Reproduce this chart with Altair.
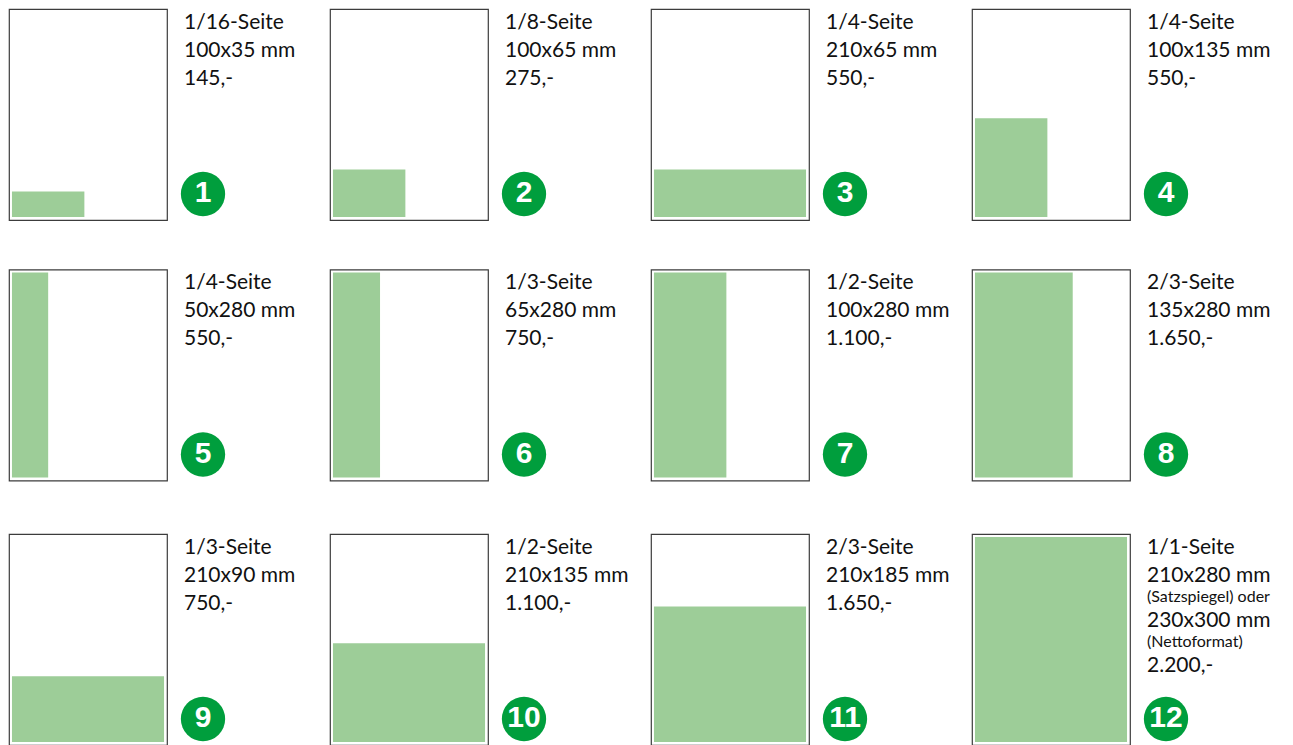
import altair as alt
import pandas as pd

# ---- data ----
ad_numbers = [1, 2, 3, 4, 5, 6, 7, 8, 9, 10, 11, 12]
ad_formats = ["1/16-Seite", "1/8-Seite", "1/4-Seite", "1/4-Seite",
              "1/4-Seite", "1/3-Seite", "1/2-Seite", "2/3-Seite",
              "1/3-Seite", "1/2-Seite", "2/3-Seite", "1/1-Seite"]
ad_width_mm = [100, 100, 210, 100, 50, 65, 100, 135, 210, 210, 210, 210]
ad_height_mm = [35, 65, 65, 135, 280, 280, 280, 280, 90, 135, 185, 280]
ad_prices = ["145,-", "275,-", "550,-", "550,-", "550,-", "750,-",
             "1.100,-", "1.650,-", "750,-", "1.100,-", "1.650,-", "2.200,-"]
# description lines of ad 12: (text, small?)
ad12_lines = [("1/1-Seite", False), ("210x280 mm", False),
              ("(Satzspiegel) oder", True), ("230x300 mm", False),
              ("(Nettoformat)", True), ("2.200,-", False)]

# ---- layout / style ----
PAGE_W, PAGE_H = 158, 211
X_DOMAIN = [-4.1, 214.1]
Y_DOMAIN = [-4.1, 284.2]
GREEN = "#9dcd98"
BADGE = "#009e3d"
FONT = "Lato"
BIG, SMALL = 21, 16
TEXT_X = 175
BADGE_X, BADGE_Y = 194, 185


def panel(i):
    df = pd.DataFrame({
        "num": [str(ad_numbers[i])],
        "x0": [0], "y0": [0],
        "w": [ad_width_mm[i]], "h": [ad_height_mm[i]],
    })
    base = alt.Chart(df)
    rect = base.mark_rect(color=GREEN).encode(
        x=alt.X("x0:Q", scale=alt.Scale(domain=X_DOMAIN, nice=False, zero=False), axis=None),
        x2="w:Q",
        y=alt.Y("y0:Q", scale=alt.Scale(domain=Y_DOMAIN, nice=False, zero=False), axis=None),
        y2="h:Q",
    )
    badge = base.mark_point(filled=True, shape="circle", size=1963,
                            color=BADGE, opacity=1, strokeWidth=0).encode(
        x=alt.value(BADGE_X), y=alt.value(BADGE_Y))
    num = base.mark_text(font="'Liberation Sans Narrow', 'Liberation Sans', Arial",
                         fontWeight="bold", fontSize=30, color="white",
                         align="center", baseline="middle").encode(
        x=alt.value(BADGE_X), y=alt.value(BADGE_Y - 1), text="num:N")

    if ad_numbers[i] == 12:
        lines = ad12_lines
    else:
        lines = [(ad_formats[i], False),
                 (f"{ad_width_mm[i]}x{ad_height_mm[i]} mm", False),
                 (ad_prices[i], False)]
    layers = [rect, badge, num]
    y = 19.5
    prev_small = None
    for t, small in lines:
        if prev_small is not None:
            if small:
                y += 20
            elif prev_small:
                y += 25
            else:
                y += 28.0
        layers.append(
            base.mark_text(font=FONT, fontSize=SMALL if small else BIG, color="#111111",
                           align="left", baseline="alphabetic").encode(
                x=alt.value(TEXT_X), y=alt.value(y), text=alt.value(t)))
        prev_small = small
    return alt.layer(*layers).properties(width=PAGE_W, height=PAGE_H)


rows = [alt.hconcat(*[panel(r * 4 + c) for c in range(4)], spacing=163, bounds="flush")
        for r in range(3)]

chart = alt.vconcat(
    rows[0],
    alt.vconcat(rows[1], rows[2], spacing=51.5),
    spacing=47.5,
).properties(padding=0).configure_view(stroke="#3c3c3c", strokeWidth=1.2)

chart.save("out.html", embed_options={"renderer": "svg", "actions": False})
